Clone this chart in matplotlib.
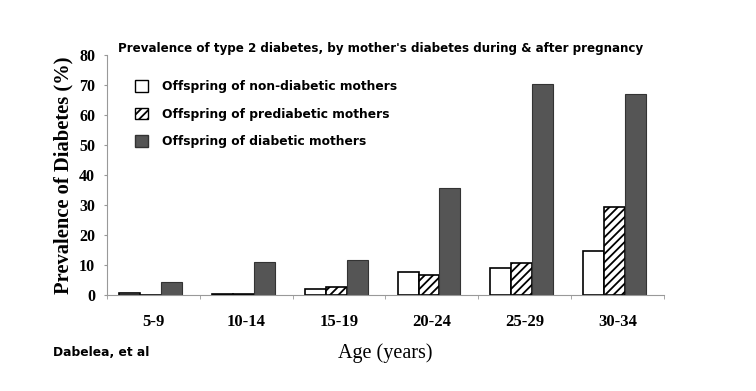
import matplotlib
matplotlib.use("Agg")
import matplotlib.pyplot as plt
from matplotlib.patches import Patch
import numpy as np

# data
ages = ["5-9", "10-14", "15-19", "20-24", "25-29", "30-34"]
non_diabetic = [0.8, 0.5, 1.9, 7.8, 8.9, 14.7]
prediabetic = [0.0, 0.5, 2.8, 6.7, 10.6, 29.4]
diabetic = [4.3, 11.1, 11.7, 35.8, 70.5, 67.0]
yticks = [0, 10, 20, 30, 40, 50, 60, 70, 80]

series_names = ["Offspring of non-diabetic mothers",
                "Offspring of prediabetic mothers",
                "Offspring of diabetic mothers"]

title = "Prevalence of type 2 diabetes, by mother's diabetes during & after pregnancy"

plt.rcParams['hatch.linewidth'] = 1.3

fig = plt.figure(figsize=(7.56, 3.91), dpi=100)
ax = fig.add_axes([0.1415, 0.2455, 0.7365, 0.6135])

x = np.arange(len(ages))
w = 0.225
dark = "#555555"

ax.bar(x - w - 0.03, non_diabetic, w, color="white", edgecolor="black", linewidth=1.2)
ax.bar(x - 0.03, prediabetic, w, color="white", edgecolor="black", hatch="////", linewidth=1.2)
ax.bar(x + w - 0.03, diabetic, w, color=dark, edgecolor="#333333", linewidth=0.8)

serif = "Liberation Serif"
sans = "DejaVu Sans"

ax.set_xlim(-0.5, len(ages) - 0.5)
ax.set_ylim(0, 80)
ax.set_yticks(yticks)
ax.set_yticklabels([str(t) for t in yticks], fontfamily=serif,
                   fontweight="bold", fontsize=11.5)

ax.set_xticks(x)
ax.set_xticklabels(ages, fontfamily=serif, fontweight="bold", fontsize=12)
ax.tick_params(axis="x", length=0, pad=14)
ax.set_xticks(np.arange(len(ages) + 1) - 0.5, minor=True)
ax.tick_params(axis="x", which="minor", length=3, color="#999999")
ax.tick_params(axis="y", length=2.5, color="#999999", pad=6)

for s in ["top", "right"]:
    ax.spines[s].set_visible(False)
ax.spines["left"].set_color("#999999")
ax.spines["bottom"].set_color("#999999")

ax.set_ylabel("Prevalence of Diabetes (%)", fontfamily=serif,
              fontweight="bold", fontsize=14.8, labelpad=4)
ax.set_xlabel("Age (years)", fontfamily=serif, fontsize=14.5, labelpad=9)

fig.text(0.504, 0.877, title, ha="center", va="center", fontsize=8.6,
         fontweight="bold", fontfamily=sans)
fig.text(0.070, 0.0997, "Dabelea, et al", ha="left", va="center", fontsize=8.8,
         fontweight="bold", fontfamily=sans)

handles = [Patch(facecolor="white", edgecolor="black"),
           Patch(facecolor="white", edgecolor="black", hatch="////"),
           Patch(facecolor=dark, edgecolor="#333333")]
ax.legend(handles, series_names, loc="upper left", bbox_to_anchor=(0.041, 0.917),
          frameon=False, prop={"family": sans, "size": 8.8, "weight": "bold"},
          handlelength=1.07, handleheight=1.1, labelspacing=1.2, handletextpad=1.15,
          borderaxespad=0)

fig.savefig("out.png", dpi=100)
